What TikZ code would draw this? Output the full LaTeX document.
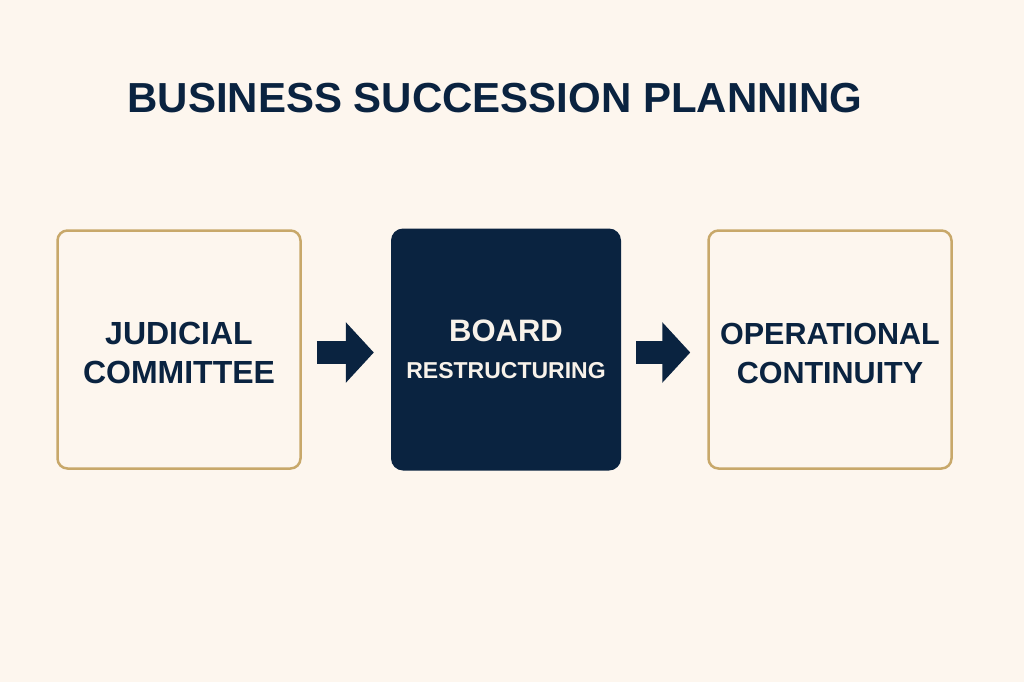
\documentclass[tikz,border=0pt]{standalone}
\usepackage{fontspec}
\setmainfont{Liberation Sans}
\usepackage{tikz}
\usetikzlibrary{arrows.meta}
\definecolor{bspnavy}{HTML}{0A2340}
\definecolor{bspgold}{HTML}{C8A86A}
\definecolor{bspcream}{HTML}{FDF6EE}
\definecolor{bsplight}{HTML}{F8F2EA}

\begin{document}
\begin{tikzpicture}[x=1pt, y=-1pt,
  stagebox/.style={rectangle,rounded corners=10pt,draw=bspgold,line width=2.5pt,fill=bspcream,
    minimum width=243pt,minimum height=238pt,align=center,text=bspnavy,text height=68pt,
    font=\bfseries\fontsize{32}{39}\selectfont},
  keybox/.style={rectangle,rounded corners=12pt,fill=bspnavy,
    minimum width=230pt,minimum height=242pt,align=center,text=bsplight,
    font=\bfseries\fontsize{23}{37}\selectfont},
  flow/.style={draw=bspnavy,line width=23pt,shorten <=15pt,shorten >=17pt,
    -{Triangle[length=28pt,width=59pt]}}]
\fill[bspcream] (0,0) rectangle (1024,682);
\useasboundingbox (0,0) rectangle (1024,682);
\node[anchor=base,text=bspnavy,font=\bfseries\fontsize{42}{50}\selectfont] (title) at (495,113) {BUSINESS SUCCESSION PLANNING};
\node[stagebox] (judicial) at (179,349.5) {JUDICIAL\\COMMITTEE};
\node[keybox] (board) at (506,349.5) {{\fontsize{31}{37}\selectfont BOARD}\\RESTRUCTURING};
\node[stagebox,font=\bfseries\fontsize{30.5}{39}\selectfont] (continuity) at (830,349.5) {OPERATIONAL\\CONTINUITY};
\draw[flow] ([yshift=-3pt]judicial.east) -- ([yshift=-3pt]board.west);
\draw[flow] ([yshift=-3pt]board.east) -- ([yshift=-3pt]continuity.west);
\end{tikzpicture}
\end{document}
